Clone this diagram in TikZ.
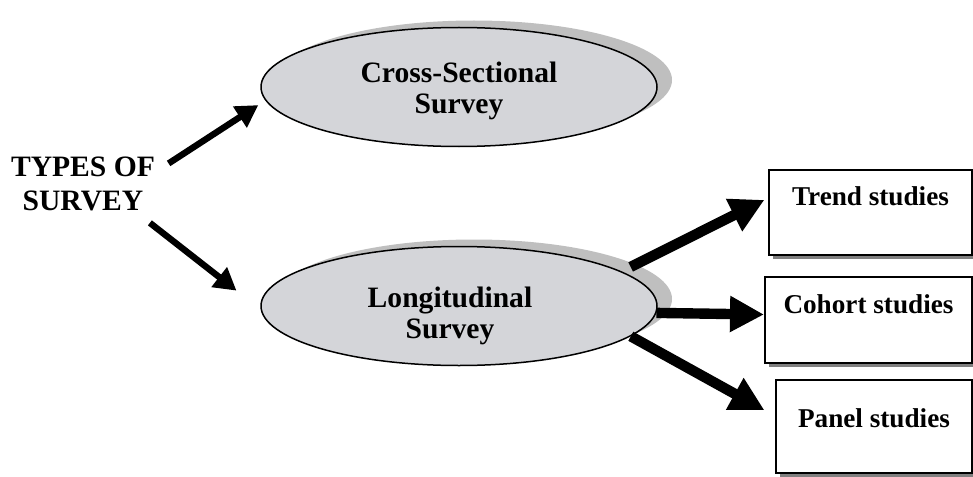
\documentclass[tikz,border=0pt]{standalone}
\usepackage{fontspec}
\setmainfont{Liberation Serif}
\usetikzlibrary{arrows.meta,shapes.geometric,shadows}
\definecolor{ovalgray}{RGB}{212,213,217}
\begin{document}
\begin{tikzpicture}[
x=0.5pt,y=-0.5pt,
oval/.style={ellipse,draw,line width=0.75pt,fill=ovalgray,minimum width=198pt,minimum height=59.5pt,inner sep=0pt,align=center,font=\fontsize{14.8}{15.5}\selectfont\bfseries,drop shadow={shadow xshift=7.5pt,shadow yshift=3.5pt,fill=gray!50,opacity=1}},
box/.style={rectangle,draw,line width=1pt,fill=white,inner sep=0pt,text height=9.5pt,font=\fontsize{13.6}{16}\selectfont\bfseries,drop shadow={shadow xshift=2pt,shadow yshift=-2pt,fill=gray,opacity=1}},
arr/.style={line width=3.2pt,-{Triangle[length=11pt,width=12pt]}},
bigarr/.style={line width=5.2pt,-{Triangle[length=17pt,width=17pt]}}
]
\useasboundingbox (0,0) rectangle (973,476);
\node[font=\fontsize{14.8}{17}\selectfont\bfseries,align=center,inner sep=0pt] (types) at (83,183.5) {TYPES OF\\SURVEY};
\node[oval] (cross) at (459,87) {\rule{0pt}{14pt}Cross-Sectional\\Survey};
\node[oval] (long) at (459,306) {\rule{0pt}{19.8pt}\hspace*{-9pt}Longitudinal\\\hspace*{-9pt}Survey};
\node[box,minimum width=101.5pt,minimum height=42.5pt,text depth=17pt] (trend) at (870.5,212.5) {Trend studies};
\node[box,minimum width=103.5pt,minimum height=43pt,text depth=16.5pt] (cohort) at (868.5,320) {Cohort studies};
\node[box,minimum width=98pt,minimum height=46.5pt,text depth=9pt] (panel) at (874,426.5) {Panel studies};
\draw[arr,shorten <=7.9pt,shorten >=4.2pt] (types.9.8) -- (cross.184.6);
\draw[arr,shorten <=9.7pt,shorten >=15.3pt] (types.-28.1) -- (long.181.5);
\draw[bigarr,shorten <=5pt,shorten >=2pt] (long.12.7) -- (trend.172);
\draw[bigarr] (long.-2.7) -- (cohort.177);
\draw[bigarr,shorten >=6pt] (long.-10.7) -- (panel.174);
\end{tikzpicture}
\end{document}
